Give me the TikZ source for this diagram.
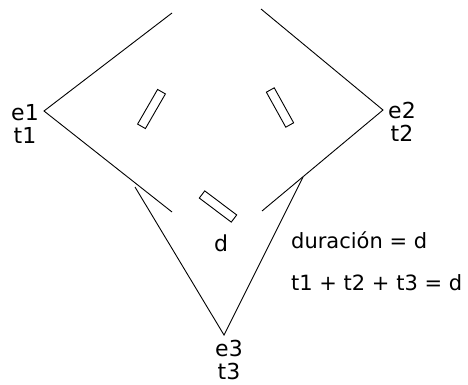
\documentclass[tikz,border=0pt]{standalone}
\usepackage{fontspec}
\setmainfont{DejaVu Sans}
\begin{document}
\begin{tikzpicture}[x=1pt,y=-1pt,
  lbl/.style={inner sep=0pt, align=center, font=\fontsize{22}{23.5}\selectfont},
  txt/.style={inner sep=0pt, anchor=base west, font=\fontsize{21}{24}\selectfont},
  slab/.style={draw, line width=0.9pt, inner sep=0pt, minimum width=40pt, minimum height=9pt},
  ln/.style={line width=0.9pt}]
\useasboundingbox (0,0) rectangle (468,385);
% named points
\coordinate (v1) at (44,111);
\coordinate (v2) at (383,110);
\coordinate (v3) at (224,335);
\coordinate (a1) at (172,13);
\coordinate (a2) at (172,212);
\coordinate (b1) at (261,9);
\coordinate (b2) at (262,211);
\coordinate (c1) at (135,187);
\coordinate (c2) at (303,177);
% lines
\draw[ln] (a1) -- (v1) -- (a2);
\draw[ln] (b1) -- (v2) -- (b2);
\draw[ln] (c1) -- (v3) -- (c2);
% slabs
\node[slab, rotate=60] (s1) at (151.5,109) {};
\node[slab, rotate=-61] (s2) at (280,107.5) {};
\node[slab, rotate=-37] (s3) at (218,206.5) {};
% labels
\node[lbl] (n1) at (25,124) {e1\\t1};
\node[lbl] (n2) at (402,122) {e2\\t2};
\node[lbl] (n3) at (229,360) {e3\\t3};
\node[lbl] (nd) at (221,243) {d};
\node[txt] (eq1) at (291,248) {duración = d};
\node[txt] (eq2) at (291,290) {t1 + t2 + t3 = d};
\end{tikzpicture}
\end{document}
